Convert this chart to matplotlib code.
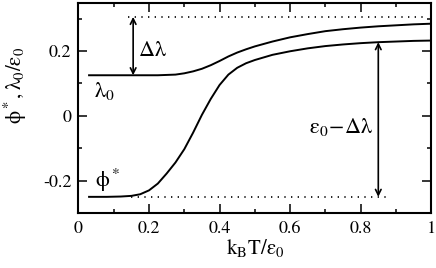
import numpy as np
import matplotlib
matplotlib.use('Agg')
import matplotlib.pyplot as plt
from matplotlib.ticker import MultipleLocator

plt.rcParams['font.family'] = 'STIXGeneral'
plt.rcParams['mathtext.fontset'] = 'stix'
plt.rcParams['mathtext.default'] = 'rm'
plt.rcParams['axes.unicode_minus'] = False

# temperature k_B T / eps0
temp = [0.03, 0.08, 0.12, 0.15, 0.175, 0.20, 0.225, 0.25, 0.275, 0.30, 0.325,
        0.35, 0.375, 0.40, 0.425, 0.45, 0.475, 0.50, 0.55, 0.60, 0.65, 0.70,
        0.75, 0.80, 0.85, 0.90, 0.95, 1.00]
# lambda_0 / eps0
lam0 = [0.125, 0.125, 0.125, 0.125, 0.125, 0.125, 0.125, 0.126, 0.127, 0.131,
        0.137, 0.145, 0.156, 0.169, 0.183, 0.195, 0.205, 0.214, 0.229, 0.242,
        0.252, 0.261, 0.267, 0.272, 0.276, 0.279, 0.282, 0.284]
# phi*
phi = [-0.25, -0.25, -0.249, -0.247, -0.242, -0.23, -0.209, -0.178, -0.144,
       -0.103, -0.052, 0.003, 0.052, 0.095, 0.127, 0.148, 0.162, 0.172, 0.188,
       0.199, 0.208, 0.215, 0.22, 0.224, 0.227, 0.229, 0.231, 0.232]

top_level = 0.305      # dotted reference line (upper)
bottom_level = -0.25   # dotted reference line (lower)
arrow1_x = 0.155
arrow2_x = 0.85
arrow2_top = 0.227

fig = plt.figure(figsize=(4.36, 2.68), dpi=100)
ax = fig.add_axes([0.18, 0.205, 0.809, 0.784])

ax.plot(temp, lam0, color='black', lw=1.4)
ax.plot(temp, phi, color='black', lw=1.4)

ax.plot([0.14, 0.99], [top_level, top_level], color='black', lw=1.2, ls=(0, (0.8, 3.2)))
ax.plot([0.15, 0.88], [bottom_level, bottom_level], color='black', lw=1.2, ls=(0, (0.8, 3.2)))

arr = dict(arrowstyle='<->', color='black', lw=1.2, mutation_scale=10, shrinkA=0, shrinkB=0)
ax.annotate('', xy=(arrow1_x, top_level), xytext=(arrow1_x, 0.125), arrowprops=arr)
ax.annotate('', xy=(arrow2_x, arrow2_top), xytext=(arrow2_x, bottom_level), arrowprops=arr)

ax.text(0.168, 0.2, r'$\Delta\lambda$', fontsize=16, va='center', ha='left')
ax.text(0.835, -0.034, r'$\varepsilon_0\!-\!\Delta\lambda$', fontsize=16, va='center', ha='right')
ax.text(0.045, 0.075, r'$\lambda_0$', fontsize=16, va='center', ha='left')
ax.text(0.048, -0.2, r'$\phi^*$', fontsize=16, va='center', ha='left')

ax.set_xlim(0, 1)
ax.set_ylim(-0.3, 0.348)
ax.xaxis.set_minor_locator(MultipleLocator(0.1))
ax.yaxis.set_minor_locator(MultipleLocator(0.1))
ax.set_xticks([0, 0.2, 0.4, 0.6, 0.8, 1.0])
ax.set_xticklabels(['0', '0.2', '0.4', '0.6', '0.8', '1'])
ax.set_yticks([-0.2, 0, 0.2])
ax.set_yticklabels(['-0.2', '0', '0.2'])

ax.tick_params(which='both', direction='in', top=True, right=True, width=1.1, labelsize=13)
ax.tick_params(which='major', length=6.5)
ax.tick_params(which='minor', length=3.2)
ax.tick_params(axis='x', pad=6)
ax.tick_params(axis='y', pad=5)
for s in ax.spines.values():
    s.set_linewidth(1.5)

ax.set_xlabel(r'$\mathrm{k_B T}/\varepsilon_0$', fontsize=15, labelpad=0)
ax.set_ylabel(r'$\phi^*, \lambda_0/\varepsilon_0$', fontsize=15)
ax.yaxis.set_label_coords(-0.14, 0.61)

fig.savefig('out.png', dpi=100)
